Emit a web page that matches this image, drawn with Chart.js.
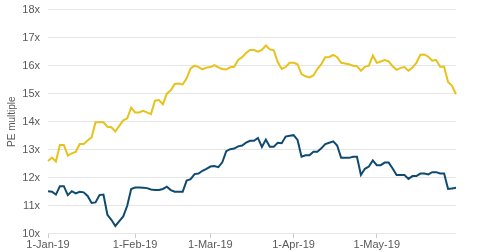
<!DOCTYPE html>
<html>
<head>
<meta charset="utf-8">
<script src="https://cdn.jsdelivr.net/npm/chart.js@4.4.1/dist/chart.umd.min.js"></script>
<style>
html,body{margin:0;padding:0;background:#fff;overflow:hidden;}
#wrap{width:480px;height:252px;position:relative;overflow:hidden;}
#c{position:absolute;left:0;top:-5px;}
</style>
</head>
<body>
<div id="wrap"><canvas id="c" width="480" height="258"></canvas></div>
<script>
// Trading days shown on the x axis (first label is 1-Jan-19)
const months = ['Jan','Feb','Mar','Apr','May'];
const holidays = ['2019-01-21','2019-02-18','2019-04-19','2019-05-27'];
const tickLabels = ['1-Jan-19','1-Feb-19','1-Mar-19','1-Apr-19','1-May-19'];
const yTicks = [10,11,12,13,14,15,16,17,18];

const categories = (function(){
  const out = ['1-Jan-19'];
  const d = new Date(Date.UTC(2019,0,2));
  while (out.length < 104) {
    const wd = d.getUTCDay();
    const iso = d.toISOString().slice(0,10);
    if (wd !== 0 && wd !== 6 && holidays.indexOf(iso) < 0) {
      out.push(d.getUTCDate() + '-' + months[d.getUTCMonth()] + '-19');
    }
    d.setUTCDate(d.getUTCDate()+1);
  }
  return out;
})();

const yellowSeries = [
12.6,12.72,12.58,13.17,13.17,12.79,12.87,12.92,13.2,13.2,
13.33,13.44,13.98,13.98,13.98,13.82,13.8,13.65,13.85,14.05,
14.12,14.5,14.33,14.33,14.39,14.33,14.27,14.75,14.77,14.62,
15.0,15.12,15.35,15.36,15.33,15.55,15.9,16.0,15.95,15.87,
15.93,15.95,16.02,15.94,15.88,15.86,15.94,15.96,16.2,16.3,
16.45,16.56,16.56,16.5,16.56,16.72,16.58,16.55,16.13,15.88,
15.95,16.1,16.1,16.05,15.7,15.62,15.58,15.65,15.88,16.05,
16.3,16.31,16.38,16.3,16.1,16.08,16.05,16.0,15.98,15.82,
15.96,16.0,16.36,16.1,16.15,16.2,16.15,15.98,15.85,15.92,
15.95,15.82,15.93,16.1,16.39,16.4,16.32,16.18,16.2,15.96,
15.96,15.42,15.28,14.98];

const blueSeries = [
11.52,11.5,11.4,11.7,11.7,11.38,11.52,11.44,11.5,11.48,
11.35,11.1,11.12,11.38,11.4,10.68,10.5,10.28,10.45,10.62,
11.0,11.6,11.65,11.65,11.64,11.63,11.58,11.56,11.56,11.6,
11.68,11.56,11.5,11.5,11.5,11.9,11.95,12.13,12.15,12.25,
12.32,12.4,12.42,12.38,12.55,12.95,13.02,13.04,13.12,13.15,
13.25,13.32,13.32,13.42,13.1,13.36,13.11,13.11,13.25,13.23,
13.47,13.5,13.52,13.35,12.75,12.8,12.8,12.93,12.93,13.05,
13.2,13.25,13.3,13.15,12.71,12.71,12.71,12.75,12.75,12.1,
12.32,12.4,12.62,12.45,12.45,12.54,12.54,12.33,12.1,12.1,
12.1,11.96,12.06,12.06,12.15,12.15,12.12,12.2,12.2,12.15,
12.15,11.6,11.62,11.64];

const txt = '#595959';
const fontFam = '"Liberation Sans", Arial, sans-serif';

new Chart(document.getElementById('c'), {
  type: 'line',
  data: {
    labels: categories,
    datasets: [
      {label:'Yellow', data: yellowSeries, borderColor:'#E8C21C', borderWidth:2, pointRadius:0, tension:0, fill:false},
      {label:'Blue', data: blueSeries, borderColor:'#0F4A72', borderWidth:2, pointRadius:0, tension:0, fill:false}
    ]
  },
  options: {
    responsive:false,
    animation:false,
    devicePixelRatio:1,
    layout:{padding:{left:2,right:24,top:0,bottom:0}},
    plugins:{legend:{display:false}, tooltip:{enabled:false}},
    scales:{
      x:{
        type:'category',
        offset:false,
        border:{display:false},
        grid:{drawOnChartArea:false, drawTicks:true, tickLength:4, color:'#c8c8c8'},
        ticks:{
          autoSkip:false, maxRotation:0, minRotation:0, padding:1,
          color:txt, font:{family:fontFam, size:11},
          callback:function(v){ const l = categories[v]; return tickLabels.indexOf(l) >= 0 ? l : null; }
        }
      },
      y:{
        min:10, max:18,
        border:{display:false},
        grid:{color:'#e6e6e6', drawTicks:false},
        afterBuildTicks:function(axis){ axis.ticks = yTicks.map(v=>({value:v})); },
        afterFit:function(axis){ axis.width = 46; },
        ticks:{
          padding:8, color:txt, font:{family:fontFam, size:11},
          callback:function(v){ return v + 'x'; }
        },
        title:{display:true, text:'PE multiple', color:txt, font:{family:fontFam, size:10}, padding:{top:4,bottom:0}}
      }
    }
  }
});
</script>
</body>
</html>
